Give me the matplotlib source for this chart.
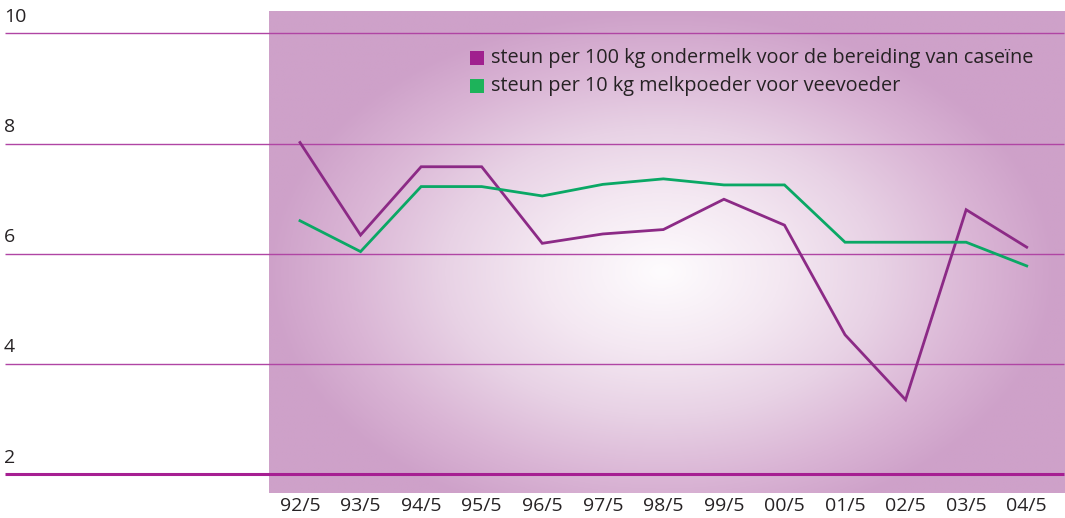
import numpy as np
import matplotlib
matplotlib.use("Agg")
import matplotlib.pyplot as plt
from matplotlib.colors import LinearSegmentedColormap

# ---- data ----
periods = ["92/5", "93/5", "94/5", "95/5", "96/5", "97/5", "98/5",
           "99/5", "00/5", "01/5", "02/5", "03/5", "04/5"]
casein = [8.02, 6.34, 7.58, 7.58, 6.19, 6.36, 6.44, 6.99, 6.52, 4.53, 3.35, 6.80, 6.12]
feed = [6.60, 6.04, 7.22, 7.22, 7.05, 7.26, 7.36, 7.25, 7.25, 6.21, 6.21, 6.21, 5.78]
y_ticks = [2, 4, 6, 8, 10]
legend_labels = ["steun per 100 kg ondermelk voor de bereiding van caseïne",
                 "steun per 10 kg melkpoeder voor veevoeder"]

PURPLE = "#8c2a86"
GREEN = "#0aa865"
GRID = "#b045a4"
TEXT = "#262224"

W, H = 1065, 518
fig = plt.figure(figsize=(W / 100, H / 100), dpi=100)
ax = fig.add_axes([0, 0, 1, 1])

# pixel <-> data mapping
px_per_idx = 60.56
x0_px = 300.0
y6_px = 253.8
px_per_unit = 55.1

def xd(px):
    return (px - x0_px) / px_per_idx

def yd(py):
    return 6 - (py - y6_px) / px_per_unit

ax.set_xlim(xd(0), xd(W))
ax.set_ylim(yd(H), yd(0))
ax.axis("off")

# gradient background
bx0, bx1, by0, by1 = 269, 1065, 11, 493
nx, ny = 400, 240
gx = np.linspace(bx0, bx1, nx)
gy = np.linspace(by0, by1, ny)
GX, GY = np.meshgrid(gx, gy)
cx, cy = 662, 272
a, b = 395, 262
r = np.sqrt(((GX - cx) / a) ** 2 + ((GY - cy) / b) ** 2)
r = np.clip(r, 0, 1)
cmap = LinearSegmentedColormap.from_list(
    "g", [(0, "#fefcfe"), (0.3, "#f4e8f2"), (0.55, "#e8d2e5"), (0.8, "#dab5d5"), (1, "#cea1c9")], N=256)
ax.imshow(cmap(r), extent=(xd(bx0), xd(bx1), yd(by1), yd(by0)),
          aspect="auto", interpolation="bilinear", zorder=0)

# gridlines and y labels
for t in y_ticks:
    lw = 2.2 if t == 2 else 1.0
    col = "#a61f92" if t == 2 else GRID
    ax.plot([xd(5), xd(1064)], [t, t], color=col, lw=lw, zorder=1, solid_capstyle="butt")
    ax.text(xd(4), t + 16.5 / px_per_unit, str(t), ha="left", va="center",
            fontsize=14, color=TEXT, family="Open Sans")

# series
xs = np.arange(len(periods))
ax.plot(xs, casein, color=PURPLE, lw=2.0, zorder=3, solid_joinstyle="miter")
ax.plot(xs, feed, color=GREEN, lw=2.0, zorder=3, solid_joinstyle="miter")

# x labels
for i, p in enumerate(periods):
    ax.text(i, yd(506), p, ha="center", va="center", fontsize=14, color=TEXT,
            family="Open Sans")

# legend
for k, (lab, col) in enumerate(zip(legend_labels, ["#a0208e", "#1db35a"])):
    yc = 58 + 28 * k
    ax.scatter([xd(476.5)], [yd(yc)], marker="s", s=110, color=col, zorder=4, linewidths=0)
    ax.text(xd(491), yd(yc), lab, ha="left", va="center", fontsize=14.3, color=TEXT,
            family="Open Sans")

fig.savefig("out.png", dpi=100)
